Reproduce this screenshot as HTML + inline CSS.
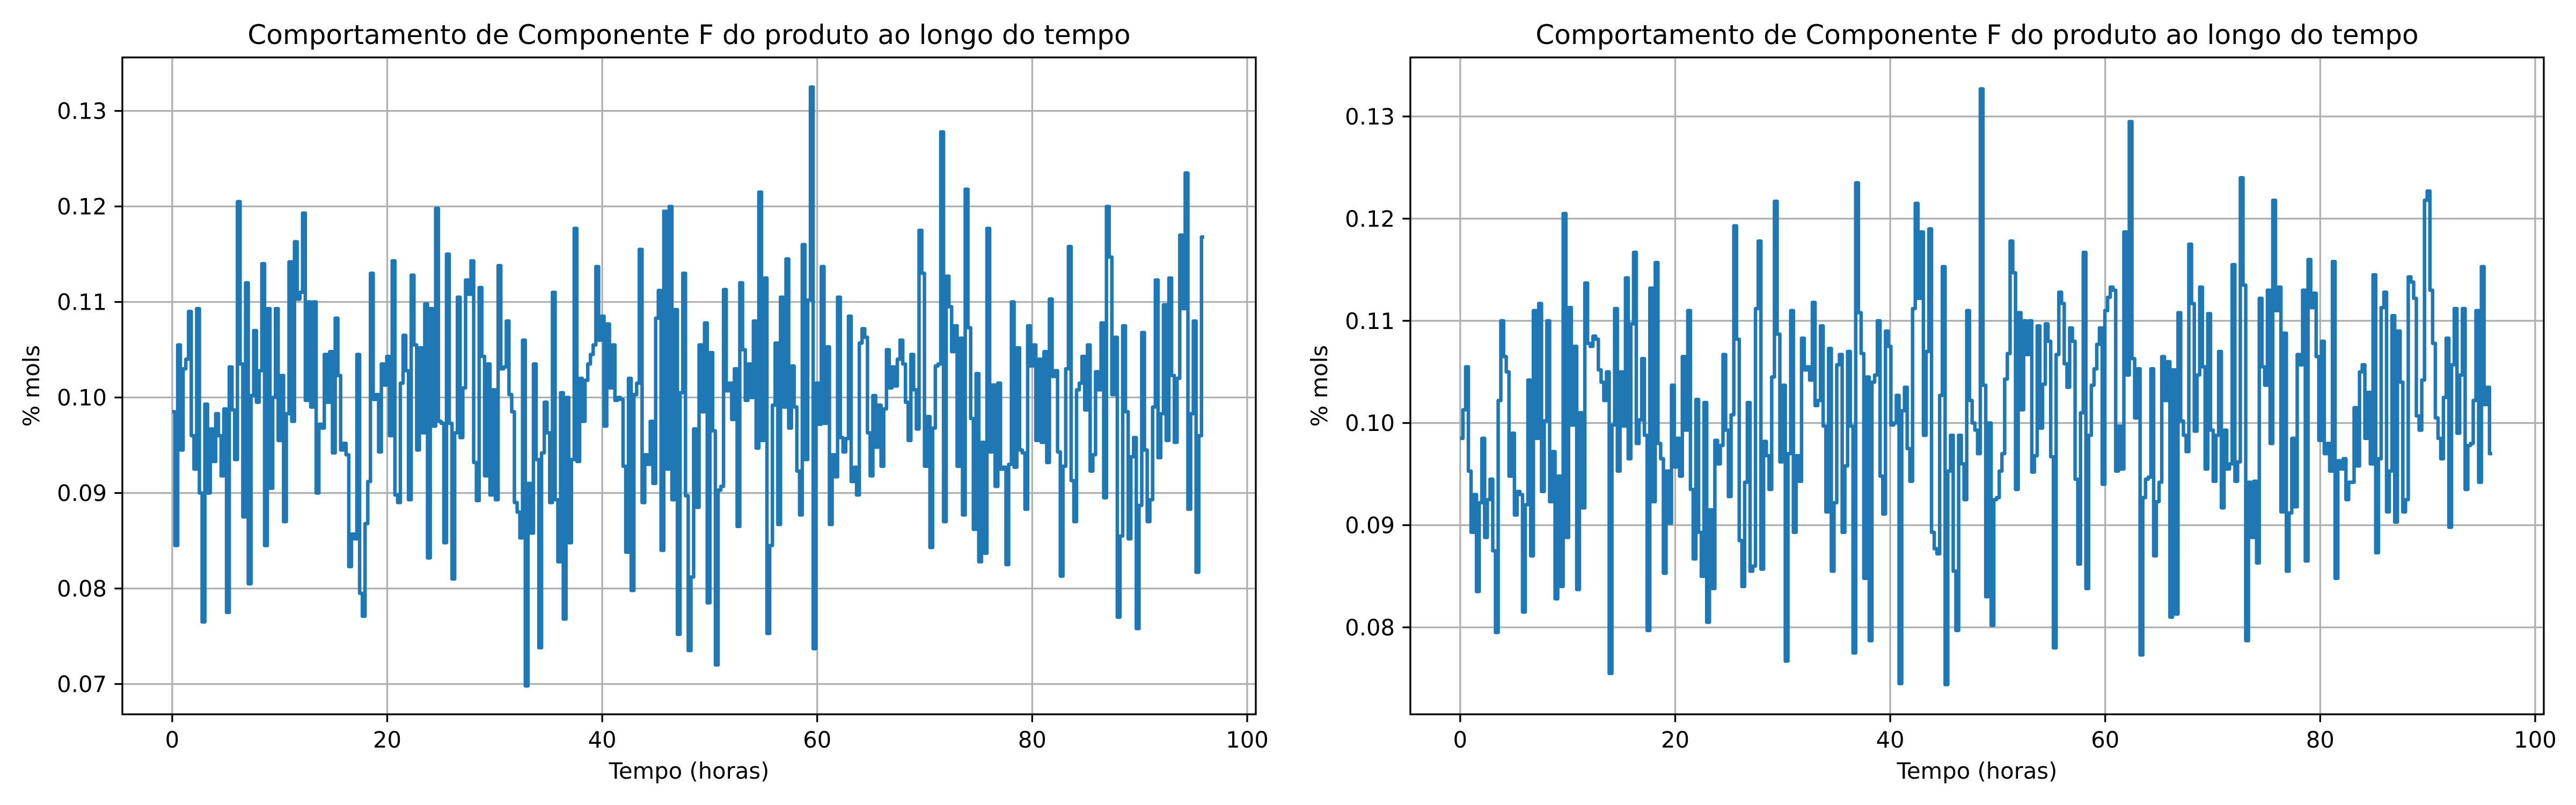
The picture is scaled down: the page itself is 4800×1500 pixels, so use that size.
<!DOCTYPE html>
<html><head><meta charset="utf-8"><style>
html,body{margin:0;padding:0;background:#fff;}
svg{display:block;font-family:"DejaVu Sans","Liberation Sans",sans-serif;}
</style></head><body>
<svg id="fig" width="4800" height="1500" viewBox="0 0 4800 1500" xmlns="http://www.w3.org/2000/svg"></svg>
<script>
const xTicks = [0, 20, 40, 60, 80, 100];
const leftYTicks = [0.07, 0.08, 0.09, 0.10, 0.11, 0.12, 0.13];
const rightYTicks = [0.08, 0.09, 0.10, 0.11, 0.12, 0.13];
const titleText = "Comportamento de Componente F do produto ao longo do tempo";
const xLabelText = "Tempo (horas)";
const yLabelText = "% mols";
const tEnd = 96;
const leftValues = [0.0985,0.0845,0.1055,0.0945,0.103,0.104,0.109,0.096,0.0925,0.1093,0.090,0.0765,0.0993,0.090,0.0967,0.0933,0.0983,0.096,0.0918,0.0988,0.0775,0.1032,0.0987,0.0935,0.1205,0.1035,0.0875,0.112,0.0805,0.1002,0.107,0.0995,0.1028,0.114,0.0845,0.1093,0.0905,0.100,0.1093,0.0955,0.1023,0.087,0.0983,0.1142,0.0975,0.1163,0.1103,0.111,0.1193,0.0997,0.110,0.099,0.110,0.090,0.0972,0.0968,0.1045,0.0995,0.1048,0.0942,0.1083,0.1023,0.0945,0.0952,0.094,0.0823,0.0857,0.0852,0.1045,0.0795,0.0771,0.0868,0.0912,0.113,0.0998,0.1003,0.0943,0.1035,0.1013,0.1043,0.096,0.1143,0.0898,0.089,0.1015,0.1065,0.1028,0.0893,0.1128,0.1055,0.0945,0.1052,0.0963,0.1098,0.0832,0.1093,0.097,0.1198,0.0975,0.0973,0.0848,0.115,0.0973,0.0810,0.0963,0.1105,0.0958,0.1010,0.1123,0.1108,0.1143,0.0932,0.0892,0.1115,0.1043,0.0918,0.1035,0.0898,0.1008,0.0893,0.1138,0.1030,0.1032,0.1080,0.1003,0.0985,0.0890,0.0880,0.0853,0.1060,0.0698,0.0910,0.0858,0.1035,0.0935,0.0738,0.0942,0.0995,0.0963,0.0890,0.1110,0.0893,0.0828,0.1005,0.0768,0.1000,0.0848,0.0935,0.1177,0.0933,0.1020,0.0975,0.1018,0.1035,0.1045,0.1055,0.1137,0.1060,0.1085,0.0970,0.1077,0.1010,0.1055,0.0997,0.1000,0.0998,0.0928,0.0838,0.1020,0.0798,0.1003,0.1015,0.1155,0.0890,0.0940,0.0930,0.0975,0.0910,0.1083,0.1112,0.0840,0.1195,0.0925,0.1200,0.0893,0.1092,0.0752,0.1005,0.1130,0.0897,0.0735,0.0812,0.0967,0.0885,0.1055,0.0985,0.1078,0.0785,0.1047,0.0965,0.0720,0.0903,0.0907,0.1113,0.1007,0.1015,0.0977,0.1030,0.0865,0.1120,0.1050,0.0997,0.1035,0.1000,0.1080,0.0947,0.1215,0.0955,0.1125,0.0753,0.0845,0.0992,0.1057,0.0867,0.1105,0.0990,0.1145,0.0968,0.1033,0.0990,0.0923,0.0877,0.1160,0.0935,0.1102,0.1325,0.0737,0.1015,0.0972,0.1137,0.0973,0.1053,0.0867,0.0940,0.0917,0.1105,0.0958,0.0943,0.0957,0.1085,0.0912,0.0927,0.0898,0.1057,0.1072,0.1063,0.0963,0.0918,0.1002,0.0948,0.0992,0.0928,0.0988,0.1050,0.1010,0.1032,0.1012,0.1040,0.1060,0.1035,0.0995,0.0955,0.1045,0.1008,0.0967,0.1175,0.1130,0.0928,0.0980,0.0843,0.0968,0.1033,0.1035,0.1278,0.0870,0.1127,0.1095,0.1048,0.1075,0.0928,0.1062,0.0877,0.1218,0.1073,0.0978,0.0862,0.1025,0.0828,0.0953,0.0837,0.1177,0.0943,0.1013,0.0907,0.1015,0.0925,0.0927,0.0825,0.0930,0.1100,0.0927,0.1052,0.0945,0.0942,0.0883,0.1075,0.1033,0.1055,0.0955,0.1040,0.0953,0.1048,0.0932,0.1103,0.1022,0.1028,0.0943,0.0813,0.0928,0.1030,0.1158,0.0913,0.0870,0.1008,0.1015,0.1043,0.0987,0.1055,0.0923,0.0940,0.1027,0.1008,0.1078,0.0895,0.1200,0.1147,0.1003,0.1063,0.0770,0.0855,0.1075,0.0985,0.0852,0.0938,0.0958,0.0758,0.0887,0.1068,0.0945,0.0870,0.0893,0.0990,0.1123,0.0937,0.0983,0.1097,0.0955,0.1125,0.1023,0.0953,0.1020,0.1170,0.1093,0.1235,0.0883,0.0983,0.1080,0.0817,0.0960,0.1168,0.1168];
const rightValues = [0.0985,0.1013,0.1055,0.0953,0.0893,0.0930,0.0835,0.0922,0.0985,0.0888,0.0925,0.0945,0.0875,0.0795,0.1022,0.1100,0.1065,0.1050,0.0948,0.0990,0.0910,0.0933,0.0930,0.0815,0.0920,0.1042,0.0870,0.1110,0.0985,0.1117,0.0933,0.1002,0.1100,0.0923,0.0972,0.0828,0.0948,0.0840,0.1205,0.0888,0.1113,0.0998,0.1075,0.0837,0.1010,0.0917,0.1137,0.1078,0.1075,0.1085,0.1082,0.1052,0.1040,0.1022,0.1050,0.0755,0.0998,0.1112,0.0953,0.1050,0.0997,0.1142,0.0965,0.1097,0.1167,0.0980,0.1003,0.1063,0.0988,0.0797,0.1132,0.0923,0.1157,0.0980,0.0965,0.0853,0.0953,0.0902,0.1037,0.0957,0.0985,0.0948,0.1065,0.0993,0.1110,0.0935,0.0867,0.1023,0.0893,0.0850,0.1020,0.0805,0.0915,0.0838,0.0983,0.0960,0.0978,0.1067,0.0993,0.0928,0.1008,0.1193,0.1082,0.0885,0.0840,0.0942,0.1020,0.0855,0.0860,0.1112,0.1178,0.0857,0.0982,0.0968,0.0935,0.1045,0.1217,0.1087,0.0962,0.1037,0.0767,0.0970,0.1110,0.0893,0.0968,0.0943,0.1083,0.1052,0.1055,0.1042,0.1118,0.1017,0.1022,0.1095,0.0997,0.0913,0.1073,0.0855,0.0922,0.1057,0.1067,0.0893,0.0958,0.1070,0.0997,0.0775,0.1235,0.1108,0.1068,0.0848,0.1045,0.0787,0.1040,0.1047,0.1100,0.0948,0.0911,0.1090,0.1075,0.0998,0.1000,0.1027,0.0745,0.1012,0.1035,0.0975,0.0943,0.1112,0.1215,0.1122,0.1187,0.0988,0.1070,0.1190,0.0893,0.0877,0.0872,0.1027,0.1153,0.0744,0.0953,0.0988,0.0855,0.0797,0.0988,0.0960,0.0925,0.1110,0.1022,0.1000,0.0993,0.0970,0.1327,0.1037,0.0830,0.1000,0.0802,0.0925,0.0927,0.0953,0.0970,0.1043,0.1068,0.1178,0.1147,0.0935,0.1108,0.1013,0.1100,0.1067,0.1100,0.0952,0.0968,0.1095,0.0995,0.1038,0.1097,0.1080,0.0967,0.0780,0.1067,0.1128,0.1117,0.1058,0.1035,0.1093,0.1080,0.0945,0.0862,0.1010,0.1167,0.0838,0.0988,0.1037,0.1053,0.1077,0.1093,0.0940,0.1110,0.1123,0.1133,0.1130,0.0953,0.0997,0.0955,0.1187,0.1047,0.1295,0.1063,0.1005,0.1053,0.0773,0.0927,0.0945,0.0947,0.1053,0.0870,0.0923,0.0942,0.1065,0.1022,0.1060,0.0810,0.1052,0.0813,0.1108,0.1002,0.0988,0.0972,0.1175,0.1117,0.0992,0.1047,0.1133,0.1055,0.0955,0.1107,0.0993,0.0943,0.0988,0.1070,0.0917,0.0993,0.0955,0.0960,0.1155,0.0943,0.0962,0.1240,0.1135,0.0787,0.0942,0.0888,0.0943,0.0863,0.1122,0.1055,0.1037,0.1130,0.0980,0.1218,0.1110,0.1133,0.0913,0.1088,0.0855,0.0912,0.0985,0.0918,0.1067,0.1057,0.1130,0.0865,0.1160,0.1113,0.1127,0.1065,0.0983,0.1080,0.0970,0.0980,0.0953,0.1158,0.0848,0.0963,0.0955,0.0965,0.0925,0.0942,0.0942,0.1015,0.0958,0.1050,0.1057,0.0985,0.1030,0.0960,0.1145,0.0873,0.0965,0.1113,0.1128,0.0913,0.0953,0.1105,0.0903,0.1090,0.1040,0.0913,0.0925,0.1143,0.1138,0.1122,0.1007,0.0993,0.1042,0.1218,0.1227,0.1130,0.1078,0.1005,0.0985,0.0965,0.1025,0.1083,0.0898,0.1057,0.1112,0.0990,0.1047,0.1112,0.0935,0.0978,0.0980,0.1022,0.1110,0.0942,0.1153,0.1018,0.1035,0.0970,0.0970];

const NS = "http://www.w3.org/2000/svg";
const svg = document.getElementById('fig');
function mk(tag, attrs, parent) {
  const e = document.createElementNS(NS, tag);
  for (const k in attrs) e.setAttribute(k, attrs[k]);
  (parent || svg).appendChild(e);
  return e;
}

function drawPanel(idx, values, yTicks, box, xDomain, yDomain) {
  const g = mk('g', {});
  
  
  const X = v => box.x0 + (v - xDomain[0]) / (xDomain[1] - xDomain[0]) * (box.x1 - box.x0);
  const Y = v => box.y1 - (v - yDomain[0]) / (yDomain[1] - yDomain[0]) * (box.y1 - box.y0);
  xTicks.forEach(t => {
    const l = mk('line', {x1: X(t), x2: X(t), y1: box.y0, y2: box.y1, stroke: '#b0b0b0', 'stroke-width': 3.3}, g);
    
    
  });
  yTicks.forEach(t => {
    const l = mk('line', {x1: box.x0, x2: box.x1, y1: Y(t), y2: Y(t), stroke: '#b0b0b0', 'stroke-width': 3.3}, g);
    
    
  });
  const n = values.length;
  let d = '';
  for (let i = 0; i < n; i++) {
    const t = i * tEnd / (n - 1);
    const x = X(t), y = Y(values[i]);
    if (i === 0) d += 'M' + x.toFixed(1) + ',' + y.toFixed(1);
    else d += 'H' + x.toFixed(1) + 'V' + y.toFixed(1);
  }
  const clip = mk('clipPath', {id: 'clip' + idx}, g);
  mk('rect', {x: box.x0, y: box.y0, width: box.x1 - box.x0, height: box.y1 - box.y0}, clip);
  const p = mk('path', {d: d, fill: 'none', stroke: '#1f77b4', 'stroke-width': 6.5, 'stroke-linejoin': 'round', 'stroke-linecap': 'butt', 'clip-path': 'url(#clip' + idx + ')'}, g);
  
  
  const r = mk('rect', {x: box.x0, y: box.y0, width: box.x1 - box.x0, height: box.y1 - box.y0, fill: 'none', stroke: '#000', 'stroke-width': 3.3}, g);
  
  
  xTicks.forEach(t => {
    mk('line', {x1: X(t), x2: X(t), y1: box.y1, y2: box.y1 + 14.6, stroke: '#000', 'stroke-width': 3.3}, g);
    const tx = mk('text', {x: X(t), y: box.y1 + 62, 'font-size': 41.7, 'text-anchor': 'middle', fill: '#000'}, g);
    tx.textContent = String(t);
    
    
  });
  yTicks.forEach(t => {
    mk('line', {x1: box.x0 - 14.6, x2: box.x0, y1: Y(t), y2: Y(t), stroke: '#000', 'stroke-width': 3.3}, g);
    const ty = mk('text', {x: box.x0 - 29, y: Y(t) + 15, 'font-size': 41.7, 'text-anchor': 'end', fill: '#000'}, g);
    ty.textContent = t.toFixed(2);
    
    
  });
  const ti = mk('text', {x: (box.x0 + box.x1) / 2, y: box.y0 - 25, 'font-size': 50, 'text-anchor': 'middle', fill: '#000'}, g);
  ti.textContent = titleText;
  
  
  const xl = mk('text', {x: (box.x0 + box.x1) / 2, y: box.y1 + 120, 'font-size': 41.7, 'text-anchor': 'middle', fill: '#000'}, g);
  xl.textContent = xLabelText;
  
  
  const yx = box.x0 - 155, yy = (box.y0 + box.y1) / 2;
  const yl = mk('text', {x: yx, y: yy, 'font-size': 41.7, 'text-anchor': 'middle', fill: '#000', transform: 'rotate(-90 ' + yx + ' ' + yy + ')'}, g);
  yl.textContent = yLabelText;
  
  
}

drawPanel(1, leftValues, leftYTicks, {x0: 228, x1: 2340, y0: 107, y1: 1331}, [-4.64, 100.8], [0.06683, 0.1356]);
drawPanel(2, rightValues, rightYTicks, {x0: 2628, x1: 4740, y0: 107, y1: 1331}, [-4.64, 100.8], [0.07149, 0.13578]);
</script>
</body></html>
